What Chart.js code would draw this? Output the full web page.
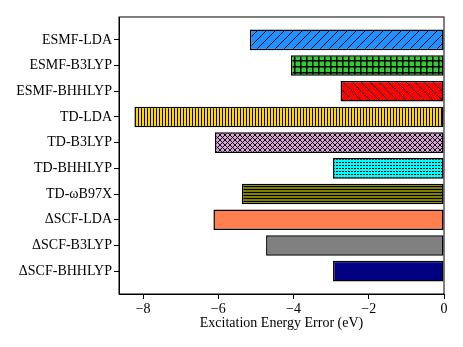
<!DOCTYPE html>
<html>
<head>
<meta charset="utf-8">
<script src="https://cdn.jsdelivr.net/npm/chart.js@4/dist/chart.umd.min.js"></script>
<style>
  html, body { margin: 0; padding: 0; background: #fff; }
  #wrap { width: 463px; height: 347px; }
</style>
</head>
<body>
<div id="wrap"><canvas id="myChart" width="463" height="347"></canvas></div>
<script>
// data
const methods = ["ESMF-LDA", "ESMF-B3LYP", "ESMF-BHHLYP", "TD-LDA", "TD-B3LYP",
  "TD-BHHLYP", "TD-\u03c9B97X", "\u0394SCF-LDA", "\u0394SCF-B3LYP", "\u0394SCF-BHHLYP"];
const errors = [-5.16, -4.07, -2.75, -8.23, -6.09, -2.95, -5.37, -6.13, -4.73, -2.95];
const xTicks = [-8, -6, -4, -2, 0];

const barColors = ["#1e90ff", "#32cd32", "#ff0000", "#ffd700", "#dda0dd",
  "#00ffff", "#808000", "#ff7f50", "#808080", "#000080"];
const hatches = ["/", "+", "\\", "|", "x", ".", "-", "", "", ""];

const canvas = document.getElementById("myChart");
const ctx = canvas.getContext("2d");

function makePattern(bg, hatch) {
  if (!hatch) return bg;
  let w = 9, h = 9;
  if (hatch === "+") { w = 6; h = 6; }
  if (hatch === "|") { w = 3; h = 4; }
  if (hatch === "-") { w = 4; h = 3; }
  if (hatch === "x") { w = 5; h = 5; }
  if (hatch === ".") { w = 3; h = 3; }
  const c = document.createElement("canvas");
  c.width = w; c.height = h;
  const p = c.getContext("2d");
  p.fillStyle = bg;
  p.fillRect(0, 0, w, h);
  p.strokeStyle = "#000";
  p.fillStyle = "#000";
  p.lineWidth = 1;
  if (hatch === "/") {
    p.beginPath();
    p.moveTo(-1, h + 1); p.lineTo(w + 1, -1);
    p.moveTo(-1, 1); p.lineTo(1, -1);
    p.moveTo(w - 1, h + 1); p.lineTo(w + 1, h - 1);
    p.stroke();
  } else if (hatch === "\\") {
    p.beginPath();
    p.moveTo(-1, -1); p.lineTo(w + 1, h + 1);
    p.moveTo(w - 1, -1); p.lineTo(w + 1, 1);
    p.moveTo(-1, h - 1); p.lineTo(1, h + 1);
    p.stroke();
  } else if (hatch === "+") {
    p.fillRect(0, 0, w, 1.5);
    p.fillRect(0, 0, 1.5, h);
  } else if (hatch === "|") {
    p.fillRect(0, 0, 1, h);
  } else if (hatch === "-") {
    p.fillRect(0, 0, w, 1);
  } else if (hatch === "x") {
    p.beginPath();
    p.moveTo(0, 0); p.lineTo(w, h);
    p.moveTo(w, 0); p.lineTo(0, h);
    p.stroke();
  } else if (hatch === ".") {
    p.fillRect(0, 0, 2, 1);
  }
  return ctx.createPattern(c, "repeat");
}

const fills = barColors.map((c, i) => makePattern(c, hatches[i]));

const framePlugin = {
  id: "frame",
  afterDatasetsDraw(chart) {
    const a = chart.chartArea;
    const g = chart.ctx;
    g.save();
    g.strokeStyle = "#000";
    g.lineWidth = 1;
    g.strokeRect(a.left, a.top, a.right - a.left, a.bottom - a.top);
    g.restore();
  }
};

const font = { family: "'Liberation Serif', 'DejaVu Serif', serif", size: 14 };

new Chart(ctx, {
  type: "bar",
  data: {
    datasets: [{
      data: errors.map((v, i) => ({ x: v, y: i })),
      backgroundColor: fills,
      borderColor: "#000",
      borderWidth: 1.5,
      borderSkipped: false,
      barPercentage: 0.8,
      categoryPercentage: 1
    }]
  },
  options: {
    indexAxis: "y",
    responsive: false,
    animation: false,
    layout: { padding: { top: 17, right: 19, left: 0, bottom: 15.6 } },
    plugins: { legend: { display: false }, tooltip: { enabled: false } },
    scales: {
      x: {
        type: "linear",
        min: -8.64,
        max: 0,
        afterBuildTicks: s => { s.ticks = xTicks.map(v => ({ value: v })); },
        afterFit: s => { s.height = 37.4; },
        grid: { drawOnChartArea: false, drawTicks: true, tickLength: 5, color: "#000" },
        border: { display: true, color: "#000" },
        ticks: {
          color: "#000", font: font, padding: 2, maxRotation: 0,
          callback: v => v < 0 ? "\u2212" + Math.abs(v) : String(v)
        },
        title: {
          display: true, text: "Excitation Energy Error (eV)", color: "#000",
          font: font, padding: { top: 0, bottom: 0 }
        }
      },
      y: {
        type: "linear",
        reverse: true,
        offset: false,
        min: -0.89,
        max: 9.89,
        afterBuildTicks: s => { s.ticks = methods.map((m, i) => ({ value: i })); },
        afterFit: s => { s.width = 119; },
        grid: { offset: false, drawOnChartArea: false, drawTicks: true, tickLength: 5, color: "#000" },
        border: { display: true, color: "#000" },
        ticks: {
          color: "#000", font: font, padding: 2,
          callback: v => methods[v]
        }
      }
    }
  },
  plugins: [framePlugin]
});
</script>
</body>
</html>
